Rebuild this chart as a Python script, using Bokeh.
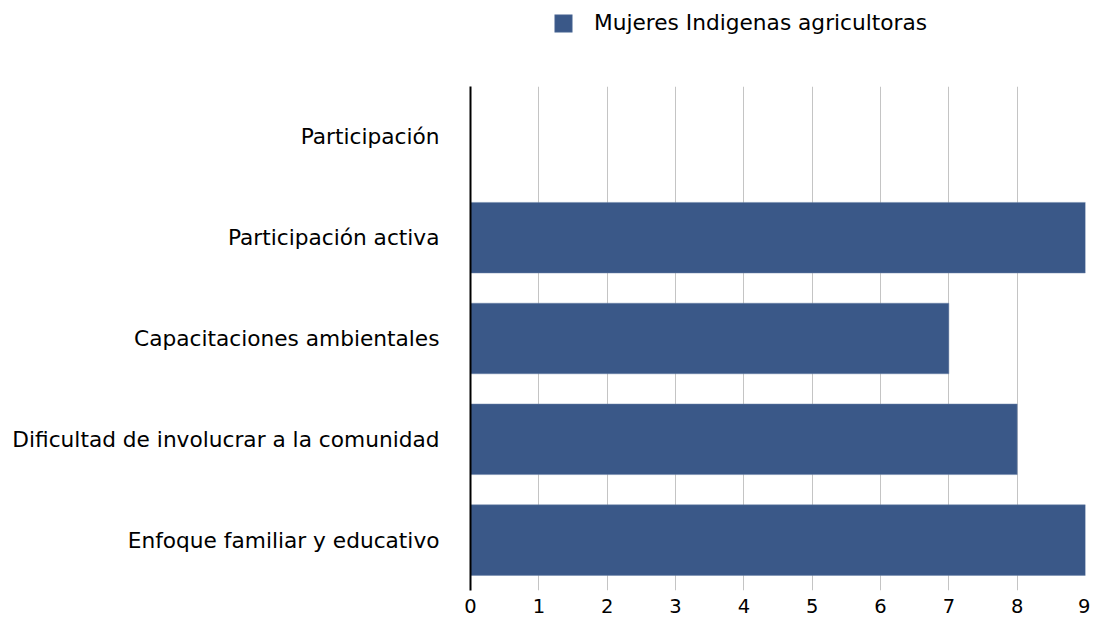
from bokeh.plotting import figure
from bokeh.layouts import column
from bokeh.models import FactorRange, Range1d, Legend, LegendItem, FixedTicker
from bokeh.embed import file_html
from bokeh.resources import INLINE

categories = ["Participación", "Participación activa", "Capacitaciones ambientales",
              "Dificultad de involucrar a la comunidad", "Enfoque familiar y educativo"]
values = [0, 9, 7, 8, 9]
series_name = "Mujeres Indigenas agricultoras"
x_ticks = [0, 1, 2, 3, 4, 5, 6, 7, 8, 9]

FONT = "DejaVu Sans"
BAR = "#3a5888"
EDGE = "#6b83a8"

# legend strip (top); its frame is aligned with the main chart's frame by the column
leg_fig = figure(width=1090, height=86, output_backend="svg", toolbar_location=None,
                 x_axis_type=None, y_axis_type=None, min_border=0,
                 min_border_left=470, min_border_right=5,
                 x_range=Range1d(0, 1), y_range=Range1d(0, 1))
leg_fig.outline_line_color = None
leg_fig.xgrid.visible = False
leg_fig.ygrid.visible = False
proxy = leg_fig.hbar(y=[-1], right=[-1], left=-1, height=0, fill_color=BAR,
                     line_color=EDGE, line_width=0.5)
legend = Legend(items=[LegendItem(label=series_name, renderers=[proxy])],
                location=(82, 51), padding=0, margin=0, glyph_width=22, glyph_height=22,
                label_standoff=20, border_line_color=None, background_fill_alpha=0,
                label_text_font=FONT, label_text_font_size="21.7px", label_text_color="black")
leg_fig.add_layout(legend, "center")

# main chart
factors = list(reversed(categories))
p = figure(width=1090, height=531, output_backend="svg", toolbar_location=None,
           y_range=FactorRange(factors=factors, range_padding=0),
           x_range=Range1d(0, 9),
           min_border_left=470, min_border_right=5, min_border_top=0, min_border_bottom=27)
p.outline_line_color = None

p.hbar(y=categories, right=values, left=0, height=0.7, fill_color=BAR,
       line_color=EDGE, line_width=0.5)

p.xaxis.ticker = FixedTicker(ticks=x_ticks)
p.xaxis.axis_line_color = None
p.xaxis.major_tick_line_color = None
p.xaxis.minor_tick_line_color = None
p.xaxis.major_label_text_font = FONT
p.xaxis.major_label_text_font_size = "19.5px"
p.xaxis.major_label_text_color = "black"
p.xaxis.major_label_standoff = 2

p.yaxis.axis_line_color = "black"
p.yaxis.axis_line_width = 2
p.yaxis.major_tick_line_color = None
p.yaxis.minor_tick_line_color = None
p.yaxis.major_label_text_font = FONT
p.yaxis.major_label_text_font_size = "21.7px"
p.yaxis.major_label_text_color = "black"
p.yaxis.major_label_standoff = 25

p.xgrid.grid_line_color = "#c4c4c4"
p.xgrid.grid_line_width = 1
p.ygrid.grid_line_color = None

layout = column(leg_fig, p, spacing=0)
open("out.html", "w").write(file_html(layout, INLINE))
